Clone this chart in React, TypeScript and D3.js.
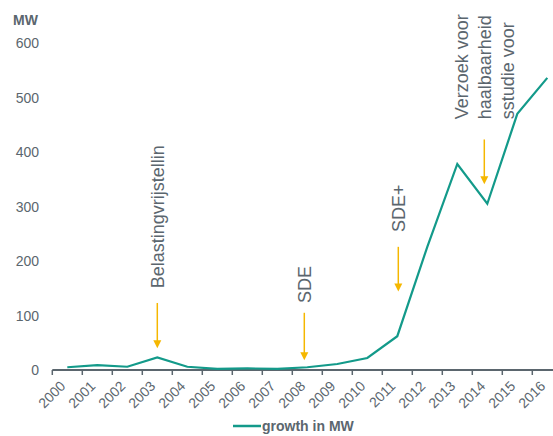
import { useEffect, useRef } from 'react';
import * as d3 from 'd3';

const years = ['2000', '2001', '2002', '2003', '2004', '2005', '2006', '2007', '2008',
  '2009', '2010', '2011', '2012', '2013', '2014', '2015', '2016'];
const growthMW = [5, 9, 6, 23, 6, 2, 3, 2, 5, 11, 22, 62, 226, 378, 305, 470, 536];
const yTicks = [0, 100, 200, 300, 400, 500, 600];

// annotations: year they point at, text lines, where text starts / arrow runs (in MW)
const noteYears = ['2003', '2008', '2011', '2014'];
const noteLines = [['Belastingvrijstellin'], ['SDE'], ['SDE+'], ['Verzoek voor', 'haalbaarheid', 'sstudie voor']];
const noteTextFrom = [150, 123, 253, 460];
const noteArrowFrom = [123, 105, 226, 423];
const noteArrowTo = [40, 18, 144, 341];
const noteShift = [0, -3, 1, -3];

const W = 553;
const H = 436;
const TEAL = '#139a8a';
const GOLD = '#f5b700';
const GREY = '#5b666e';
const FONT = '"Liberation Sans", Arial, sans-serif';

export default function App() {
  const svgRef = useRef<SVGSVGElement>(null);

  useEffect(() => {
    if (!svgRef.current) return;
    const svg = d3.select(svgRef.current);
    svg.selectAll('*').remove();

    const x = d3.scaleBand().domain(years).range([52.3, 52.3 + 30 * years.length]);
    const y = d3.scaleLinear().domain([0, 600]).range([370, 43]);
    const cx = (yr: string) => (x(yr) as number) + x.bandwidth() / 2;

    // MW title
    svg.append('text')
      .attr('x', 13).attr('y', 25)
      .attr('font-size', 14).attr('font-weight', 'bold')
      .attr('fill', GREY).attr('font-family', FONT)
      .text('MW');

    // y labels
    svg.append('g').selectAll('text')
      .data(yTicks).enter().append('text')
      .attr('x', 39).attr('y', d => y(d) + 5)
      .attr('text-anchor', 'end')
      .attr('font-size', 14).attr('fill', GREY).attr('font-family', FONT)
      .text(d => d);

    // x axis line + ticks at band edges
    svg.append('line')
      .attr('x1', x.range()[0]).attr('x2', W)
      .attr('y1', y(0)).attr('y2', y(0))
      .attr('stroke', GREY).attr('stroke-width', 2);
    svg.append('g').selectAll('line')
      .data(d3.range(years.length + 1)).enter().append('line')
      .attr('x1', i => x.range()[0] + i * x.step())
      .attr('x2', i => x.range()[0] + i * x.step())
      .attr('y1', y(0)).attr('y2', y(0) + 5)
      .attr('stroke', GREY).attr('stroke-width', 1.5);

    svg.append('g').selectAll('text')
      .data(years).enter().append('text')
      .attr('transform', d => `translate(${cx(d) - 1},${y(0) + 17}) rotate(-45)`)
      .attr('text-anchor', 'end')
      .attr('font-size', 14).attr('fill', GREY).attr('font-family', FONT)
      .text(d => d);

    // line
    const line = d3.line<number>()
      .x((_, i) => cx(years[i]))
      .y(d => y(d));
    svg.append('path')
      .datum(growthMW)
      .attr('d', line)
      .attr('fill', 'none')
      .attr('stroke', TEAL)
      .attr('stroke-width', 2.2)
      .attr('stroke-linejoin', 'miter');

    // annotations
    noteYears.forEach((yr, k) => {
      const ax = cx(yr) + noteShift[k];
      const top = y(noteArrowFrom[k]);
      const tip = y(noteArrowTo[k]);
      svg.append('line')
        .attr('x1', ax).attr('x2', ax)
        .attr('y1', top).attr('y2', tip - 6)
        .attr('stroke', GOLD).attr('stroke-width', 1.5);
      svg.append('path')
        .attr('d', `M${ax - 4},${tip - 8}L${ax + 4},${tip - 8}L${ax},${tip}Z`)
        .attr('fill', GOLD);

      const lines = noteLines[k];
      const ty = y(noteTextFrom[k]);
      lines.forEach((t, j) => {
        const lx = ax + (j - (lines.length - 1) / 2) * 23.3 + 6.5;
        svg.append('text')
          .attr('transform', `translate(${lx},${ty}) rotate(-90)`)
          .attr('font-size', 18).attr('fill', GREY).attr('font-family', FONT)
          .text(t);
      });
    });

    // legend
    const lg = svg.append('g').attr('transform', `translate(233,426)`);
    lg.append('line').attr('x1', 0).attr('x2', 28).attr('y1', 0).attr('y2', 0)
      .attr('stroke', TEAL).attr('stroke-width', 2.5);
    lg.append('text').attr('x', 29).attr('y', 5)
      .attr('font-size', 14).attr('font-weight', 'bold')
      .attr('fill', GREY).attr('font-family', FONT)
      .text('growth in MW');
  }, []);

  return (
    <svg
      ref={svgRef}
      width={W}
      height={H}
      style={{ position: 'absolute', left: 0, top: 0, background: '#fff' }}
    />
  );
}
